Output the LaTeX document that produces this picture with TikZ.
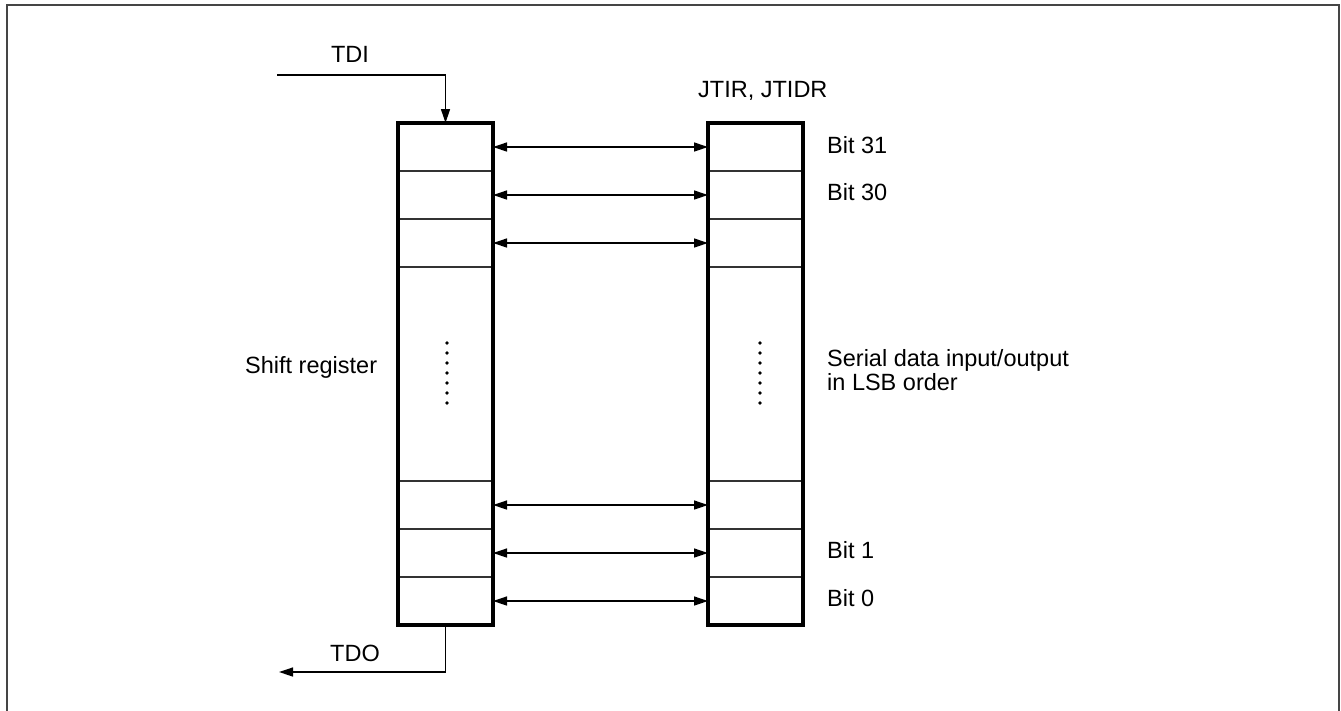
\documentclass[tikz,border=0pt]{standalone}
\usepackage{fontspec}
\setmainfont{Liberation Sans}
\usetikzlibrary{arrows.meta}
\begin{document}
\begin{tikzpicture}[x=1pt,y=-1pt,
  cell/.style={draw=black!80,line width=1.3pt,minimum width=95pt,minimum height=48pt,inner sep=0pt,outer sep=0pt},
  bigcell/.style={cell,minimum height=214pt},
  regbox/.style={draw=black,line width=3.2pt},
  conn/.style={line width=1.3pt,{Triangle[length=14pt,width=9pt]}-{Triangle[length=14pt,width=9pt]}},
  sig/.style={line width=1.3pt,-{Triangle[length=14pt,width=9pt]}},
  lbl/.style={inner sep=0pt,anchor=base west,font=\fontsize{23.5}{24}\selectfont},
  dot/.style={fill=black,circle,inner sep=0pt,minimum size=3.6pt},
  frame/.style={draw=black!73,line width=2pt}]
\useasboundingbox (0,0) rectangle (1341,710);
\draw[frame] (7,712) -- (7,5) -- (1339,5) -- (1339,712);
% left register cells
\node[cell] (L1) at (445.5,147) {};
\node[cell] (L2) at (445.5,195) {};
\node[cell] (L3) at (445.5,243) {};
\node[bigcell] (LM) at (445.5,374) {};
\node[cell] (L4) at (445.5,505) {};
\node[cell] (L5) at (445.5,553) {};
\node[cell] (L6) at (445.5,601) {};
% right register cells
\node[cell] (R1) at (755.5,147) {};
\node[cell] (R2) at (755.5,195) {};
\node[cell] (R3) at (755.5,243) {};
\node[bigcell] (RM) at (755.5,374) {};
\node[cell] (R4) at (755.5,505) {};
\node[cell] (R5) at (755.5,553) {};
\node[cell] (R6) at (755.5,601) {};
\draw[regbox] (L1.north west) rectangle (L6.south east);
\draw[regbox] (R1.north west) rectangle (R6.south east);
% connectors
\foreach \i in {1,...,6} { \draw[conn] (L\i.east) -- (R\i.west); }
% dots
\foreach \k in {0,...,6} {
  \node[dot] (dl\k) at (447,343+10*\k) {};
  \node[dot] (dr\k) at (760,343+10*\k) {};
}
% TDI / TDO
\coordinate (tdiS) at (277,75);
\coordinate (tdoE) at (279,672);
\draw[sig] (tdiS) -| (L1.north);
\draw[sig] (L6.south) |- (tdoE);
\node[lbl,anchor=base] (tdi) at (350,62) {TDI};
\node[lbl,anchor=base] (tdo) at (355,661) {TDO};
\node[lbl] (sr) at (245,373) {Shift register};
\node[lbl] (jt) at (698,97) {JTIR, JTIDR};
\node[lbl] (b31) at (827,153) {Bit 31};
\node[lbl] (b30) at (827,200) {Bit 30};
\node[lbl] (b1) at (827,558) {Bit 1};
\node[lbl] (b0) at (827,606) {Bit 0};
\node[lbl] (ser1) at (827,366) {Serial data input/output};
\node[lbl] (ser2) at (827,390) {in LSB order};
\end{tikzpicture}
\end{document}
